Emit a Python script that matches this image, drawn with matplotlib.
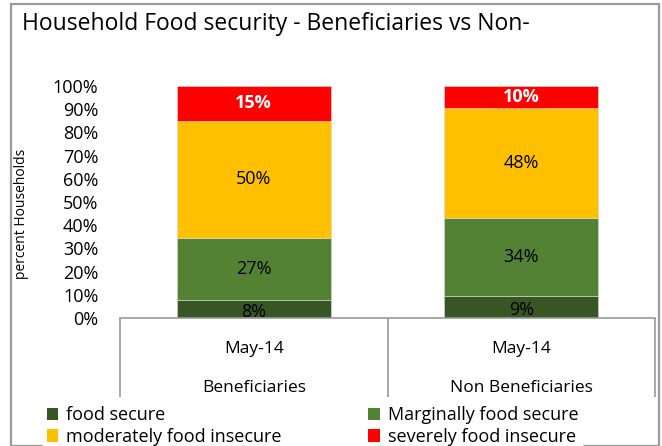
import matplotlib
matplotlib.use("Agg")
import matplotlib.pyplot as plt
from matplotlib.patches import Rectangle, Patch
import matplotlib.transforms as mtransforms

plt.rcParams['font.family'] = ['Open Sans', 'DejaVu Sans']

groups = ["Beneficiaries", "Non Beneficiaries"]
periods = ["May-14", "May-14"]
series_names = ["food secure", "Marginally food secure",
                "moderately food insecure", "severely food insecure"]
food_secure = [7.6, 9.4]
marginal = [27.0, 33.6]
moderate = [50.4, 47.6]
severe = [15.0, 9.6]
colors = ["#375623", "#548235", "#FFC000", "#FF0000"]

W, H = 662, 446
fig = plt.figure(figsize=(W / 100, H / 100), dpi=100)

# chart border
fig.patches.append(Rectangle((11 / W, 0), (659 - 11) / W, 1 - 4 / H - 0.001,
                             transform=fig.transFigure, fill=False,
                             edgecolor="#9a9a9a", lw=1.6))

ax = fig.add_axes([120 / W, 1 - 318 / H, (655 - 120) / W, (318 - 86) / H])
x = [0, 1]
values = [food_secure, marginal, moderate, severe]
bottom = [0, 0]
for i, vals in enumerate(values):
    ax.bar(x, vals, width=0.575, bottom=bottom, color=colors[i],
           edgecolor="#d9d9d9", linewidth=0.4)
    for xi, v, b in zip(x, vals, bottom):
        if i == 3:
            ax.text(xi, b + v / 2, f"{v:.0f}%", ha="center", va="center",
                    color="white", fontweight="bold", fontsize=13)
        else:
            ax.text(xi, b + v / 2 - (1.2 if i == 0 else 0), f"{v:.0f}%",
                    ha="center", va="center", color="black", fontsize=13)
    bottom = [b + v for b, v in zip(bottom, vals)]

ax.set_xlim(-0.5, 1.5)
ax.set_ylim(0, 100)
ax.set_yticks(range(0, 101, 10))
ax.set_yticklabels([f"{t}%" for t in range(0, 101, 10)], fontsize=13)
ax.tick_params(axis="y", length=0, pad=15.5)
for s in ["top", "right", "left"]:
    ax.spines[s].set_visible(False)
ax.spines["bottom"].set_color("#9a9a9a")
ax.spines["bottom"].set_linewidth(1.2)
ax.set_xticks([-0.5, 0.5, 1.5])
ax.set_xticklabels([])
ax.tick_params(axis="x", direction="out", length=57, width=1.2, color="#9a9a9a")

trans = mtransforms.blended_transform_factory(ax.transData, fig.transFigure)
for xi, p, g in zip(x, periods, groups):
    ax.text(xi, 1 - 349 / H, p, transform=trans, ha="center", va="center", fontsize=12.5)
    ax.text(xi, 1 - 388 / H, g, transform=trans, ha="center", va="center", fontsize=12.5)

ax.set_ylabel("percent Households", fontsize=10)
ax.yaxis.set_label_coords(29 / W, 1 - 214 / H, transform=fig.transFigure)

fig.text(22 / W, 1 - 24 / H, "Household Food security - Beneficiaries vs Non-",
         fontsize=16.5, ha="left", va="center")

# legend fills column-wise, so order handles to match the 2x2 grid
order = [0, 2, 1, 3]
handles = [Patch(facecolor=colors[k]) for k in order]
labels = [series_names[k] for k in order]
fig.legend(handles, labels, ncol=2, loc="lower left",
           bbox_to_anchor=(34 / W, -0.028), fontsize=13, frameon=True,
           facecolor="white", edgecolor="white", framealpha=1,
           handlelength=0.65, handleheight=0.65, handletextpad=0.45,
           columnspacing=4.75, labelspacing=0.2, borderpad=0.2)

fig.savefig("out.png", dpi=100)
